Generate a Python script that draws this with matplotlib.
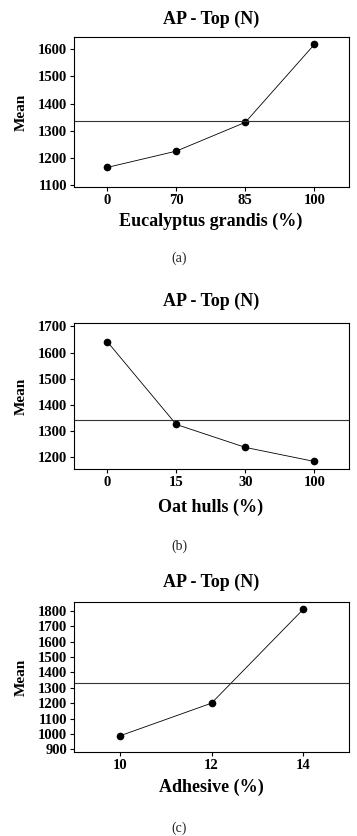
import matplotlib
matplotlib.use("Agg")
import matplotlib.pyplot as plt

plt.rcParams['font.family'] = ['Liberation Serif', 'DejaVu Serif']

# Panel (a)
a_labels = ['0', '70', '85', '100']
a_means = [1165, 1225, 1331, 1618]
a_grand = 1335
a_yticks = [1100, 1200, 1300, 1400, 1500, 1600]
a_xlabel = 'Eucalyptus grandis (%)'

# Panel (b)
b_labels = ['0', '15', '30', '100']
b_means = [1642, 1324, 1236, 1182]
b_grand = 1343
b_yticks = [1200, 1300, 1400, 1500, 1600, 1700]
b_xlabel = 'Oat hulls (%)'

# Panel (c)
c_x = [10, 12, 14]
c_means = [987, 1200, 1811]
c_grand = 1330
c_yticks = [900, 1000, 1100, 1200, 1300, 1400, 1500, 1600, 1700, 1800]
c_xlabel = 'Adhesive (%)'

title = 'AP - Top (N)'
captions = ['(a)', '(b)', '(c)']

W, H = 357, 836
fig = plt.figure(figsize=(W / 100, H / 100), dpi=100)


def px_axes(left, top, right, bottom):
    return fig.add_axes([left / W, 1 - bottom / H, (right - left) / W, (bottom - top) / H])


def style(ax, yticks, ylim):
    ax.set_yticks(yticks)
    ax.set_ylim(*ylim)
    ax.tick_params(direction='out', length=3, width=0.8, labelsize=10.5, pad=2)
    for lab in ax.get_xticklabels() + ax.get_yticklabels():
        lab.set_fontweight('bold')
    for s in ax.spines.values():
        s.set_linewidth(0.8)
    ax.set_ylabel('Mean', fontsize=11, fontweight='bold')
    ax.yaxis.set_label_coords((28 - 74) / 275, 0.5)


def decorate(title_y, xlabel, xlabel_y, cap, cap_y):
    fig.text(211 / W, 1 - title_y / H, title, ha='center', va='center', fontsize=13, fontweight='bold')
    fig.text(211 / W, 1 - xlabel_y / H, xlabel, ha='center', va='center', fontsize=13, fontweight='bold')
    fig.text(179 / W, 1 - cap_y / H, cap, ha='center', va='center', fontsize=10, color='#222222')


# (a)
ax = px_axes(74, 37, 349, 187)
xa = list(range(len(a_labels)))
ax.plot(xa, a_means, color='black', lw=0.6, marker='o', ms=4.5)
ax.axhline(a_grand, color='#333333', lw=0.8)
ax.set_xticks(xa)
ax.set_xticklabels(a_labels)
ax.set_xlim(-0.48, 3.5)
style(ax, a_yticks, (1093, 1645))
decorate(19, a_xlabel, 221.5, captions[0], 258)

# (b)
ax = px_axes(74, 323.3, 349, 469.3)
xb = list(range(len(b_labels)))
ax.plot(xb, b_means, color='black', lw=0.6, marker='o', ms=4.5)
ax.axhline(b_grand, color='#333333', lw=0.8)
ax.set_xticks(xb)
ax.set_xticklabels(b_labels)
ax.set_xlim(-0.48, 3.5)
style(ax, b_yticks, (1152, 1712))
decorate(301, b_xlabel, 507.5, captions[1], 546.5)

# (c)
ax = px_axes(74, 602.3, 349, 752.3)
ax.plot(c_x, c_means, color='black', lw=0.6, marker='o', ms=4.5)
ax.axhline(c_grand, color='#333333', lw=0.8)
ax.set_xticks(c_x)
ax.set_xlim(9, 15)
style(ax, c_yticks, (880, 1857))
decorate(582.7, c_xlabel, 787.5, captions[2], 828.3)

fig.savefig('out.png', dpi=100)
